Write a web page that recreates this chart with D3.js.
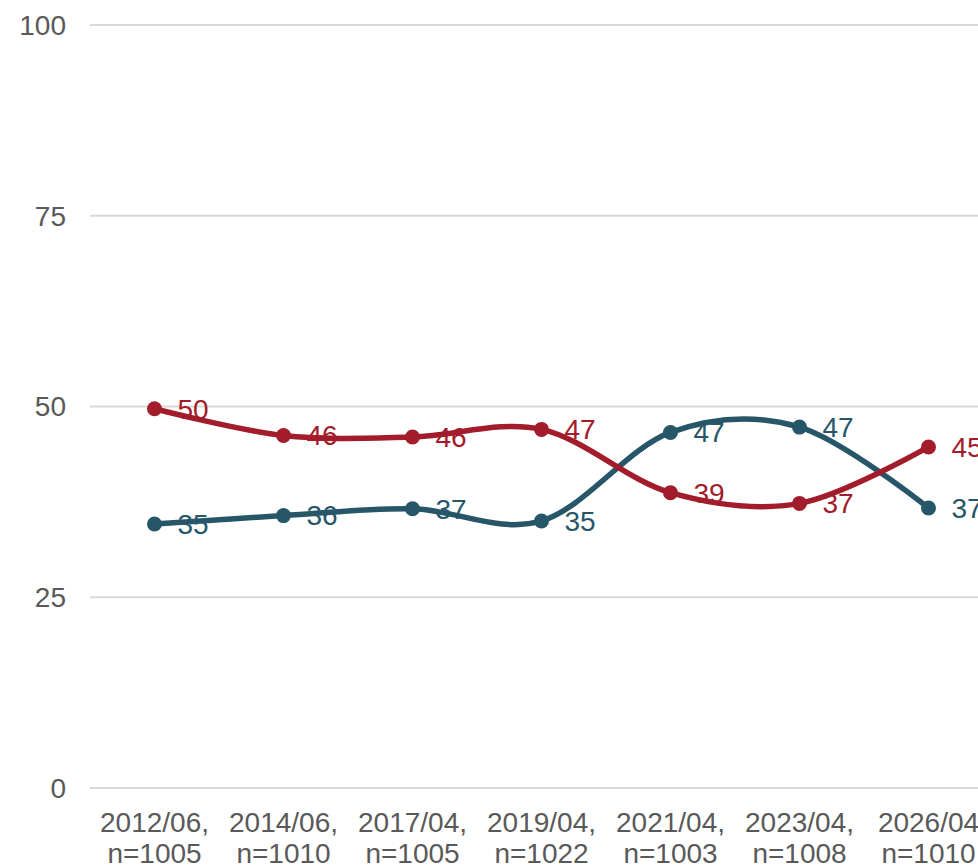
<!DOCTYPE html>
<html>
<head>
<meta charset="utf-8">
<script src="https://cdn.jsdelivr.net/npm/d3@7"></script>
<style>
  body { margin: 0; background: #fff; }
  svg { display: block; font-family: "Liberation Sans", Arial, sans-serif; }
</style>
</head>
<body>
<main></main>
<script>
const periods = ['2012/06,', '2014/06,', '2017/04,', '2019/04,', '2021/04,', '2023/04,', '2026/04'];
const samples = ['n=1005', 'n=1010', 'n=1005', 'n=1022', 'n=1003', 'n=1008', 'n=1010'];
const redValues = [49.7, 46.2, 46.0, 47.0, 38.7, 37.3, 44.7];
const blueValues = [34.6, 35.7, 36.6, 35.0, 46.6, 47.3, 36.7];
const yTicks = [0, 25, 50, 75, 100];

const w = 978;
const h = 868;
const svg = d3.select('main').append('svg').attr('width', w).attr('height', h);

const x = d3.scalePoint().domain(d3.range(periods.length)).range([90, 993]).padding(0.5);
const y = d3.scaleLinear().domain([0, 100]).range([788, 25]);

// gridlines + y labels
svg.append('g')
    .selectAll('line')
    .data(yTicks)
    .enter()
    .append('line')
    .attr('x1', 90)
    .attr('x2', w + 20)
    .attr('y1', d => y(d))
    .attr('y2', d => y(d))
    .attr('stroke', '#d9d9d9')
    .attr('stroke-width', 2);

svg.append('g')
    .selectAll('text')
    .data(yTicks)
    .enter()
    .append('text')
    .attr('x', 66)
    .attr('y', d => y(d))
    .attr('dy', '0.35em')
    .attr('text-anchor', 'end')
    .attr('font-size', 28)
    .attr('fill', '#595959')
    .text(d => d);

// x labels, two lines each
const xLab = svg.append('g')
    .selectAll('text')
    .data(periods)
    .enter()
    .append('text')
    .attr('text-anchor', 'middle')
    .attr('font-size', 28)
    .attr('fill', '#595959');
xLab.append('tspan')
    .attr('x', (d, i) => x(i))
    .attr('y', 832)
    .text(d => d);
xLab.append('tspan')
    .attr('x', (d, i) => x(i))
    .attr('y', 863)
    .text((d, i) => samples[i]);

const line = d3.line()
    .x((d, i) => x(i))
    .y(d => y(d))
    .curve(d3.curveCatmullRom.alpha(0));

const series = [
    { values: blueValues, color: '#265668' },
    { values: redValues, color: '#a21c2b' }
];

series.forEach(s => {
    const g = svg.append('g');
    g.append('path')
        .attr('d', line(s.values))
        .attr('fill', 'none')
        .attr('stroke', s.color)
        .attr('stroke-width', 5.5);
    g.selectAll('circle')
        .data(s.values)
        .enter()
        .append('circle')
        .attr('cx', (d, i) => x(i))
        .attr('cy', d => y(d))
        .attr('r', 7.5)
        .attr('fill', s.color);
    g.selectAll('text')
        .data(s.values)
        .enter()
        .append('text')
        .attr('x', (d, i) => x(i) + 23)
        .attr('y', d => y(d))
        .attr('dy', '0.35em')
        .attr('font-size', 28)
        .attr('fill', s.color)
        .text(d => Math.round(d));
});
</script>
</body>
</html>
